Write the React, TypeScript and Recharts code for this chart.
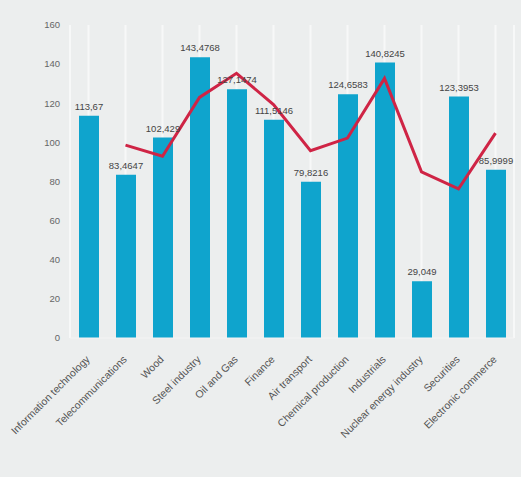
import { ComposedChart, Bar, Line, XAxis, YAxis, CartesianGrid, LabelList } from "recharts";

const industries = [
  "Information technology",
  "Telecommunications",
  "Wood",
  "Steel industry",
  "Oil and Gas",
  "Finance",
  "Air transport",
  "Chemical production",
  "Industrials",
  "Nuclear energy industry",
  "Securities",
  "Electronic commerce",
];

const indexValues = [113.67, 83.4647, 102.429, 143.4768, 127.1474, 111.5146, 79.8216, 124.6583, 140.8245, 29.049, 123.3953, 85.9999];

// trend line (starts at the second category)
const trendValues = [null, 98.6, 92.9, 123.0, 135.3, 119.3, 95.7, 102.2, 132.7, 84.9, 76.2, 104.7];

const yTicks = [0, 20, 40, 60, 80, 100, 120, 140, 160];

const data = industries.map((name, i) => ({
  name,
  value: indexValues[i],
  trend: trendValues[i],
}));

const fmt = (v: number) => String(v).replace(".", ",");

const CategoryTick = ({ x, y, payload }: any) => (
  <text
    x={x + 2}
    y={y + 14}
    textAnchor="end"
    fontSize={10.5}
    fill="#555"
    transform={`rotate(-45, ${x + 2}, ${y + 14})`}
  >
    {payload.value}
  </text>
);

export default function App() {
  return (
    <div style={{ position: "fixed", top: 0, left: 0, width: 521, height: 477, background: "#eceeee", fontFamily: "'Liberation Sans', Arial, sans-serif" }}>
      <ComposedChart
        width={521}
        height={477}
        data={data}
        margin={{ top: 25, right: 7, left: 0, bottom: 0 }}
      >
        <CartesianGrid horizontal={false} stroke="#f7f8f8" strokeWidth={2} />
        <XAxis
          dataKey="name"
          interval={0}
          height={139}
          tick={<CategoryTick />}
          axisLine={{ stroke: "#f4f4f4" }}
          tickLine={false}
        />
        <YAxis
          domain={[0, 160]}
          ticks={yTicks}
          width={70}
          axisLine={false}
          tickLine={false}
          tickMargin={4}
          tick={{ fill: "#666", fontSize: 9.5 }}
        />
        <Bar dataKey="value" fill="#0fa4cd" barSize={20} isAnimationActive={false}>
          <LabelList dataKey="value" position="top" offset={6} formatter={fmt} fill="#444" fontSize={9.5} />
        </Bar>
        <Line
          dataKey="trend"
          type="linear"
          stroke="#cf2445"
          strokeWidth={3}
          dot={false}
          connectNulls={false}
          isAnimationActive={false}
        />
      </ComposedChart>
    </div>
  );
}
